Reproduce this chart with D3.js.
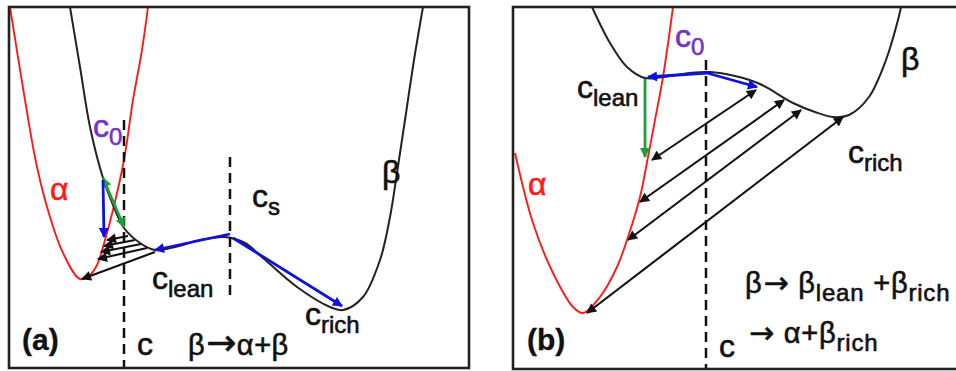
<!DOCTYPE html>
<html>
<head>
<meta charset="utf-8">
<script src="https://cdn.jsdelivr.net/npm/d3@7"></script>
<style>
  html, body { margin: 0; padding: 0; background: #fff; }
  svg { display: block; }
  text { font-family: "Liberation Sans", Arial, sans-serif; }
</style>
</head>
<body>
<svg id="chart"></svg>
<script>
// free energy curves, arbitrary units (composition, energy) per panel
const alphaA = [[1,361],[16,268],[28,201],[41,151],[54,115],[71,89],[81,93],[88,103],[96,128],[104,158],[115,208],[124,268],[133,318],[139,361]];
const betaA = [[61,361],[71,301],[81,241],[94,190],[104,163],[115,140],[131,125],[146,118],[166,121],[191,128],[216,131],[236,125],[254,110],[288,81],[321,61],[334,58],[354,71],[371,108],[381,151],[388,195],[396,248],[405,308],[414,361]];
const alphaB = [[2,216],[20,146],[40,96],[60,62],[70,56],[87,72],[104,102],[115,132],[127,172],[135,212],[142,249],[150,292],[160,362]];
const betaB = [[79,362],[97,326],[114,302],[132,291],[157,293],[177,296],[197,297],[222,293],[247,285],[280,266],[302,257],[320,252],[336,254],[356,272],[373,309],[385,349],[388,362]];

// dashed composition markers [x, yTop, yBottom]
const dashA = [[115,248,0],[221,211,68]];
const dashB = [[193,309,0]];

// arrows [from, to]
const blueA = [[[94,188],[95,131]], [[221,134],[146,118]], [[224,130],[333,62]]];
const greenA = [[[94,190],[115,141]]];
const blackA = [[[119,132],[98,128]], [[126,128],[95,122]], [[132,124],[92,116]], [[138,120],[89,109]], [[146,116],[73,89]]];
const blueB = [[[194,296],[135,292]], [[194,296],[244,282]]];
const greenB = [[[132,290],[132,212]]];
const blackB = [[[243,279],[139,209]], [[271,269],[127,167]], [[288,259],[115,129]], [[330,252],[74,56]]];

// labels: parts are [text, role] with role 0 = normal, 1 = subscript, 2 = arrow glyph
const labelsA = [
  { at: [41,168], kind: "alpha", parts: [["α",0]] },
  { at: [84,231], kind: "c0", parts: [["c",0],["0",1]] },
  { at: [243,161], kind: "main", parts: [["c",0],["s",1]] },
  { at: [373,185], kind: "main", parts: [["β",0]] },
  { at: [143,79], kind: "main", parts: [["c",0],["lean",1]] },
  { at: [296,43], kind: "main", parts: [["c",0],["rich",1]] },
  { at: [13,18], kind: "tag", parts: [["(a)",0]] },
  { at: [128,13], kind: "main", parts: [["c",0]] },
  { at: [179,13], kind: "eqA", parts: [["β",0],["→",2],["α+β",0]] }
];
const labelsB = [
  { at: [162,322], kind: "c0", parts: [["c",0],["0",1]] },
  { at: [388,299], kind: "main", parts: [["β",0]] },
  { at: [64,271], kind: "main", parts: [["c",0],["lean",1]] },
  { at: [335,206], kind: "main", parts: [["c",0],["rich",1]] },
  { at: [15,174], kind: "alpha", parts: [["α",0]] },
  { at: [14,19], kind: "tag", parts: [["(b)",0]] },
  { at: [206,12], kind: "main", parts: [["c",0]] },
  { at: [232,76], kind: "eqB", parts: [["β",0],["→",2],[" β",0],["lean",1],[" +β",0],["rich",1]] },
  { at: [235,26], kind: "eqB", parts: [["→",2],[" α+β",0],["rich",1]] }
];

const width = 956, height = 371;
const svg = d3.select("#chart").attr("width", width).attr("height", height);

const colors = { red: "#ff1a1a", blue: "#1010e0", green: "#1f9e3a", black: "#111", purple: "#7333c9" };
const fonts = {
  main: { size: 32, sub: 24, arrow: 32, fill: colors.black, weight: "normal", spacing: 0 },
  c0: { size: 32, sub: 24, arrow: 32, fill: colors.purple, weight: "normal", spacing: 0 },
  alpha: { size: 32, sub: 24, arrow: 32, fill: colors.red, weight: "normal", spacing: 0 },
  tag: { size: 30, sub: 22, arrow: 30, fill: colors.black, weight: "bold", spacing: 0 },
  eqA: { size: 29, sub: 23, arrow: 36, fill: colors.black, weight: "normal", spacing: 0.5 },
  eqB: { size: 29, sub: 24, arrow: 30, fill: colors.black, weight: "normal", spacing: 0.8 }
};

// arrowhead markers
const defs = svg.append("defs");
[["blue", 13, 10], ["green", 13, 10], ["black", 13, 10]].forEach(([name, len, wid]) => {
  defs.append("marker")
    .attr("id", "head-" + name)
    .attr("viewBox", "0 0 10 10")
    .attr("refX", 9).attr("refY", 5)
    .attr("markerUnits", "userSpaceOnUse")
    .attr("markerWidth", len).attr("markerHeight", wid)
    .attr("orient", "auto-start-reverse")
    .append("path")
    .attr("d", "M0,0 L10,5 L0,10 z")
    .attr("fill", colors[name]);
});

function drawPanel(id, box, d) {
  const x = d3.scaleLinear().domain([0, box.w]).range([box.left, box.left + box.w]);
  const y = d3.scaleLinear().domain([0, box.h]).range([box.top + box.h, box.top]);

  defs.append("clipPath").attr("id", "clip-" + id)
    .append("rect").attr("x", box.left).attr("y", box.top).attr("width", box.w).attr("height", box.h);

  const g = svg.append("g");
  const plot = g.append("g").attr("clip-path", `url(#clip-${id})`);

  const line = d3.line().x(p => x(p[0])).y(p => y(p[1])).curve(d3.curveCatmullRom.alpha(0.5));

  plot.append("path").datum(d.alpha).attr("d", line)
    .attr("fill", "none").attr("stroke", colors.red).attr("stroke-width", 1.9);
  plot.append("path").datum(d.beta).attr("d", line)
    .attr("fill", "none").attr("stroke", "#222").attr("stroke-width", 2);

  plot.selectAll(".dash").data(d.dash).enter().append("line")
    .attr("x1", v => x(v[0])).attr("x2", v => x(v[0]))
    .attr("y1", v => y(v[1])).attr("y2", v => y(v[2]))
    .attr("stroke", "#111").attr("stroke-width", 2.5)
    .attr("stroke-dasharray", "10,6");

  const arrows = (list, color, width, both) => {
    plot.selectAll(null).data(list).enter().append("line")
      .attr("x1", a => x(a[0][0])).attr("y1", a => y(a[0][1]))
      .attr("x2", a => x(a[1][0])).attr("y2", a => y(a[1][1]))
      .attr("stroke", colors[color]).attr("stroke-width", width)
      .attr("marker-end", `url(#head-${color})`)
      .attr("marker-start", both ? `url(#head-${color})` : null);
  };
  arrows(d.black, "black", 2.1, d.blackBoth);
  arrows(d.green, "green", 2.8, d.greenBoth);
  arrows(d.blue, "blue", 2.8, false);

  const txt = g.selectAll(".lab").data(d.labels).enter().append("text")
    .attr("x", l => x(l.at[0])).attr("y", l => y(l.at[1]))
    .attr("fill", l => fonts[l.kind].fill)
    .attr("stroke", l => fonts[l.kind].fill)
    .attr("stroke-width", l => fonts[l.kind].weight === "bold" ? 0.3 : 0.6)
    .attr("font-weight", l => fonts[l.kind].weight)
    .attr("letter-spacing", l => fonts[l.kind].spacing)
    .attr("font-size", l => fonts[l.kind].size);
  txt.each(function(l) {
    const f = fonts[l.kind];
    let shifted = false;
    l.parts.forEach(([t, role]) => {
      const ts = d3.select(this).append("tspan").text(t);
      if (role === 1 && !shifted) { ts.attr("dy", 8); shifted = true; }
      if (role !== 1 && shifted) { ts.attr("dy", -8); shifted = false; }
      if (role === 1) ts.attr("font-size", f.sub);
      if (role === 2) ts.attr("font-size", f.arrow).attr("font-family", "DejaVu Sans").attr("dx", 1);
    });
  });

  g.append("rect")
    .attr("x", box.left).attr("y", box.top).attr("width", box.w).attr("height", box.h)
    .attr("fill", "none").attr("stroke", "#222").attr("stroke-width", 2.6);
}

drawPanel("a", { left: 9, top: 7, w: 460, h: 361 }, {
  alpha: alphaA, beta: betaA, dash: dashA,
  blue: blueA, green: greenA, black: blackA,
  greenBoth: true, blackBoth: false, labels: labelsA
});

drawPanel("b", { left: 513, top: 7, w: 460, h: 362 }, {
  alpha: alphaB, beta: betaB, dash: dashB,
  blue: blueB, green: greenB, black: blackB,
  greenBoth: false, blackBoth: true, labels: labelsB
});
</script>
</body>
</html>
